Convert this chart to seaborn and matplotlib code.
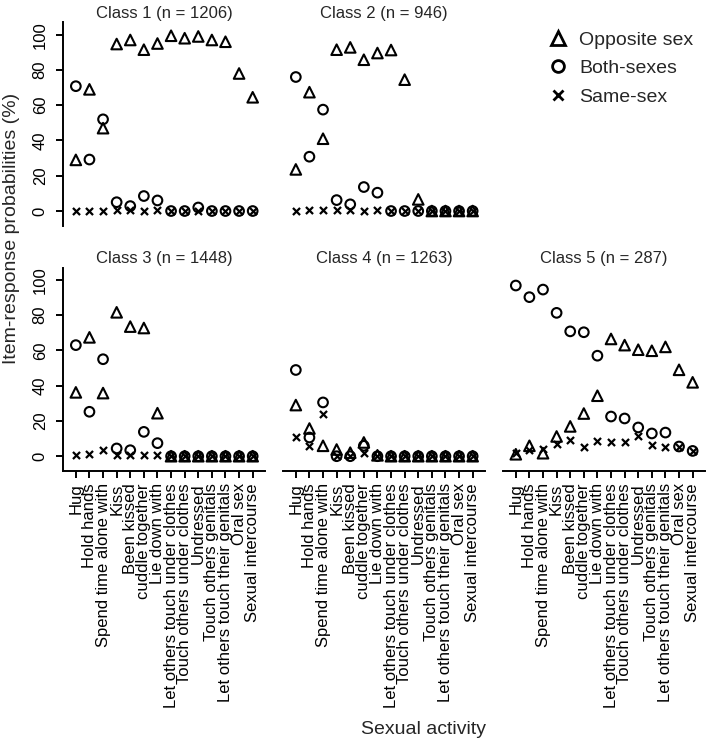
import pandas as pd
import seaborn as sns
import matplotlib.pyplot as plt
from matplotlib.lines import Line2D

activities = ["Hug", "Hold hands", "Spend time alone with", "Kiss", "Been kissed",
              "cuddle together", "Lie down with", "Let others touch under clothes",
              "Touch others under clothes", "Undressed", "Touch others genitals",
              "Let others touch their genitals", "Oral sex", "Sexual intercourse"]
class_titles = ["Class 1 (n = 1206)", "Class 2 (n = 946)", "Class 3 (n = 1448)",
                "Class 4 (n = 1263)", "Class 5 (n = 287)"]
series = ["Opposite sex", "Both-sexes", "Same-sex"]

# item-response probabilities (%) per class
opposite_1 = [29, 69, 47, 94.7, 97, 91.5, 95, 99.4, 98, 99, 97, 96, 78, 64.5]
both_1 = [70.8, 29.2, 52, 5, 2.8, 8.5, 6, 0, 0, 2, 0, 0, 0, 0]
same_1 = [0, 0, 0, 0.5, 0.5, 0, 0.5, 0, 0, 0, 0, 0, 0, 0]

opposite_2 = [23.6, 67.4, 41, 91.5, 92.8, 85.8, 89.6, 91.3, 74.5, 6.6, 0, 0, 0, 0]
both_2 = [76, 30.8, 57.5, 6.2, 3.8, 13.6, 10.4, 0, 0, 0, 0, 0, 0, 0]
same_2 = [0, 0.5, 0.5, 0.5, 0.5, 0, 0.5, 0, 0, 0, 0, 0, 0, 0]

opposite_3 = [36.2, 67.4, 35.8, 81.6, 73.5, 72.7, 24.4, 0, 0, 0, 0, 0, 0, 0]
both_3 = [63, 25.2, 55, 4.4, 3.4, 13.8, 7.4, 0, 0, 0, 0, 0, 0, 0]
same_3 = [0.5, 1, 3.6, 0.5, 0.5, 0.5, 0.5, 0, 0, 0, 0, 0, 0, 0]

opposite_4 = [29, 15.7, 5.9, 3.8, 2, 7.8, 0.5, 0, 0, 0, 0, 0, 0, 0]
both_4 = [48.9, 10.6, 30.5, 0, 0, 5.9, 0, 0, 0, 0, 0, 0, 0, 0]
same_4 = [11, 5.9, 24, 0, 0, 2, 0, 0, 0, 0, 0, 0, 0, 0]

opposite_5 = [1.1, 5.9, 1.7, 11.2, 16.9, 24.2, 34.3, 66.5, 63, 60.4, 59.8, 62, 49, 41.9]
both_5 = [96.8, 90.2, 94.5, 81.3, 70.8, 70.3, 57, 22.5, 21.4, 16.3, 12.9, 13.4, 5.5, 3]
same_5 = [1.7, 3.4, 4, 6.8, 9.3, 5.5, 8.7, 7.8, 7.8, 11.6, 6.3, 5.3, 5.5, 3]

values = [(opposite_1, both_1, same_1), (opposite_2, both_2, same_2),
          (opposite_3, both_3, same_3), (opposite_4, both_4, same_4),
          (opposite_5, both_5, same_5)]

rows = []
for c, vals in zip(class_titles, values):
    for s, v in zip(series, vals):
        for i, p in enumerate(v):
            rows.append({"Class": c, "Type": s, "pos": i, "value": p})
data = pd.DataFrame(rows)

sns.set_theme(style="ticks")
plt.rcParams["font.family"] = ["Liberation Sans", "DejaVu Sans"]

fig, axes = plt.subplots(2, 3, figsize=(7.07, 7.45), dpi=100)
fig.subplots_adjust(left=0.089, right=0.997, top=0.970, bottom=0.368,
                    wspace=0.089, hspace=0.206)

panels = [axes[0, 0], axes[0, 1], axes[1, 0], axes[1, 1], axes[1, 2]]
styles = {"Opposite sex": dict(marker="^", s=58, facecolor="none", edgecolor="black", linewidth=1.5),
          "Both-sexes": dict(marker="o", s=48, facecolor="none", edgecolor="black", linewidth=1.5),
          "Same-sex": dict(marker="x", s=26, color="black", linewidth=1.6)}

for k, (ax, c) in enumerate(zip(panels, class_titles)):
    sub = data[data.Class == c]
    for s in series:
        sns.scatterplot(data=sub[sub.Type == s], x="pos", y="value", ax=ax,
                        legend=False, zorder=3, **styles[s])
    ax.set_xlim(-0.95, 13.9)
    ax.set_ylim(-8.3, 107)
    ax.set_xlabel("")
    ax.set_ylabel("")
    ax.set_title(c, fontsize=12, pad=3)
    has_x = ax in axes[1]
    has_y = ax in axes[:, 0]
    sns.despine(ax=ax, left=not has_y, bottom=not has_x)
    for sp in ax.spines.values():
        sp.set_linewidth(1.4)
        sp.set_color("black")
    ax.tick_params(direction="out", length=5, width=1.4, labelsize=12,
                   colors="black", pad=4)
    if has_x:
        ax.set_xticks(range(len(activities)))
        ax.set_xticklabels(activities, rotation=90)
    else:
        ax.set_xticks([])
    if has_y:
        ax.set_yticks([0, 20, 40, 60, 80, 100])
        ax.set_yticklabels(["0", "20", "40", "60", "80", "100"], rotation=90, va="center")
        ax.tick_params(axis="y", pad=6)
    else:
        ax.set_yticks([])

axes[0, 2].axis("off")
handles = [Line2D([], [], marker="^", ls="", ms=10, mfc="none", mec="black", mew=2),
           Line2D([], [], marker="o", ms=8.5, ls="", mfc="none", mec="black", mew=2),
           Line2D([], [], marker="x", ms=6.5, ls="", color="black", mew=2)]
fig.legend(handles, series, loc="upper left", bbox_to_anchor=(0.775, 0.958),
           frameon=False, fontsize=14, handlelength=1, handletextpad=0.6,
           labelspacing=0.55, borderpad=0, borderaxespad=0)

fig.text(12 / 707, 1 - 228 / 745, "Item-response probabilities (%)", rotation=90,
         ha="center", va="center", fontsize=14)
fig.text(424 / 707, 1 - 730 / 745, "Sexual activity", ha="center", va="center", fontsize=14)

fig.savefig("out.png", dpi=100)
